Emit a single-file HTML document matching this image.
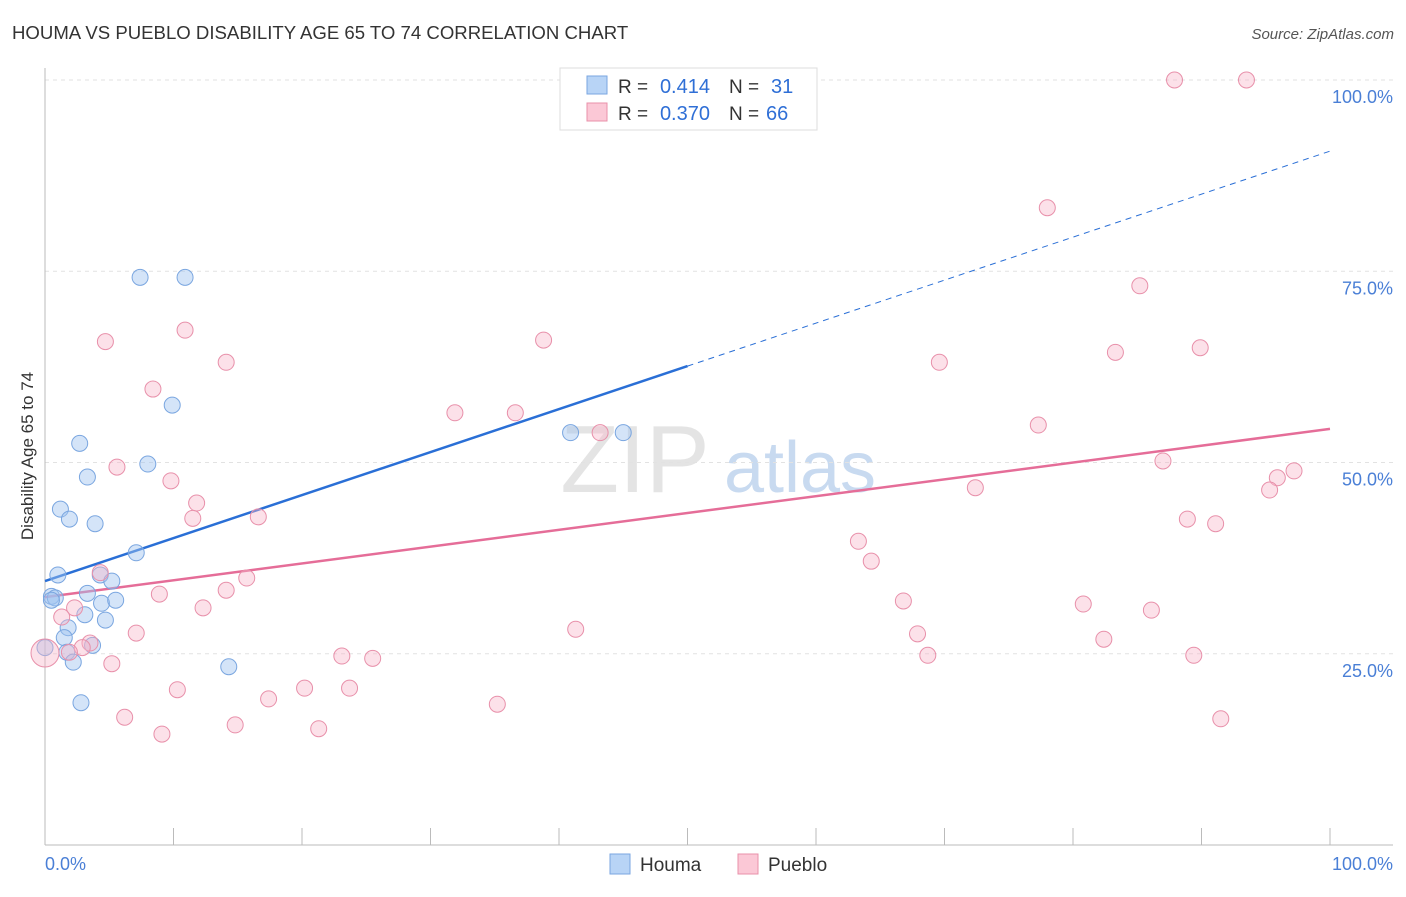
<!DOCTYPE html>
<html><head><meta charset="utf-8">
<style>
body{margin:0;background:#fff;font-family:"Liberation Sans",sans-serif;}
svg text{font-family:"Liberation Sans",sans-serif;}
</style></head>
<body>
<svg id="chart" width="1406" height="892" xmlns="http://www.w3.org/2000/svg">
<text x="12" y="39" font-size="18.6" fill="#333">HOUMA VS PUEBLO DISABILITY AGE 65 TO 74 CORRELATION CHART</text>
<text x="1394" y="39" font-size="15" fill="#555" text-anchor="end" font-style="italic">Source: ZipAtlas.com</text>
<text x="33" y="456" font-size="17" fill="#333" text-anchor="middle" transform="rotate(-90 33 456)">Disability Age 65 to 74</text>
<g><text x="635" y="492" font-size="96" fill="#e4e4e4" text-anchor="middle" font-family="Liberation Serif,serif">ZIP</text><text x="800" y="492" font-size="72" fill="#c8daf0" text-anchor="middle">atlas</text></g>
<g id="grid"></g><g id="axes"></g><g id="lines"></g><g id="pts"></g>
<g>
<rect x="560" y="68" width="257" height="62" fill="#fff" stroke="#ddd"/>
<rect x="587" y="76" width="20" height="18" fill="#b8d4f6" stroke="#7aa6e0"/>
<rect x="587" y="103" width="20" height="18" fill="#fbc8d6" stroke="#e890aa"/>
<text x="618" y="93" font-size="19" fill="#333">R =</text>
<text x="710" y="93" font-size="20" fill="#2f6fd6" text-anchor="end">0.414</text>
<text x="729" y="93" font-size="19" fill="#333">N =</text>
<text x="771" y="93" font-size="20" fill="#2f6fd6">31</text>
<text x="618" y="120" font-size="19" fill="#333">R =</text>
<text x="710" y="120" font-size="20" fill="#2f6fd6" text-anchor="end">0.370</text>
<text x="729" y="120" font-size="19" fill="#333">N =</text>
<text x="766" y="120" font-size="20" fill="#2f6fd6">66</text>
</g>
<g>
<rect x="610" y="854" width="20" height="20" fill="#b8d4f6" stroke="#7aa6e0"/>
<text x="640" y="871" font-size="19" fill="#333">Houma</text>
<rect x="738" y="854" width="20" height="20" fill="#fbc8d6" stroke="#e890aa"/>
<text x="768" y="871" font-size="19" fill="#333">Pueblo</text>
</g>
<text x="45" y="870" font-size="18" fill="#4a7fd6">0.0%</text>
<text x="1393" y="870" font-size="18" fill="#4a7fd6" text-anchor="end">100.0%</text>
</svg>
<script>
const yTicks=[25,50,75,100];
const yTickLabels=["25.0%","50.0%","75.0%","100.0%"];
const xTicks=[0,10,20,30,40,50,60,70,80,90,100];
const houmaX=[7.4,10.9,9.9,2.7,8.0,3.3,1.2,1.9,3.9,7.1,1.0,4.3,5.2,0.5,0.8,3.3,4.4,5.5,3.1,4.7,1.8,1.5,3.7,1.7,2.2,14.3,2.8,40.9,45.0,0,0.5];
const houmaY=[74.2,74.2,57.5,52.5,49.8,48.1,43.9,42.6,42.0,38.2,35.3,35.3,34.5,32.5,32.3,32.9,31.6,32.0,30.1,29.4,28.4,27.1,26.1,25.2,23.9,23.3,18.6,53.9,53.9,25.8,32.0];
const puebloX=[4.7,10.9,14.1,8.4,38.8,31.9,36.6,43.2,5.6,9.8,11.8,11.5,16.6,4.3,15.7,14.1,8.9,2.3,12.3,1.3,7.1,3.5,2.9,1.9,5.2,10.3,6.2,9.1,14.8,17.4,20.2,21.3,23.1,23.7,25.5,35.2,41.3,45.7,78.0,85.2,83.3,89.9,69.6,77.3,87.0,72.4,95.9,97.2,95.3,88.9,91.1,63.3,64.3,66.8,67.9,68.7,80.8,86.1,82.4,89.4,91.5,87.9,93.5];
const puebloY=[65.8,67.3,63.1,59.6,66.0,56.5,56.5,53.9,49.4,47.6,44.7,42.7,42.9,35.6,34.9,33.3,32.8,31.0,31.0,29.8,27.7,26.4,25.8,25.2,23.7,20.3,16.7,14.5,15.7,19.1,20.5,15.2,24.7,20.5,24.4,18.4,28.2,100,83.3,73.1,64.4,65.0,63.1,54.9,50.2,46.7,48.0,48.9,46.4,42.6,42.0,39.7,37.1,31.9,27.6,24.8,31.5,30.7,26.9,24.8,16.5,100,100];
const houmaFit=[34.5,62.6]; // value at x=0 and x=50
const puebloFit=[32.4,54.4]; // value at x=0 and x=100
const NS="http://www.w3.org/2000/svg";
const sx=v=>45+v*12.85, sy=v=>845-v*7.65;
function mk(tag,attrs,parent){const e=document.createElementNS(NS,tag);for(const k in attrs)e.setAttribute(k,attrs[k]);document.getElementById(parent).appendChild(e);return e;}
yTicks.forEach((t,i)=>{
 const l=mk('line',{x1:45,x2:1393,y1:sy(t),y2:sy(t),stroke:'#e2e2e2','stroke-dasharray':'4,4'},'grid');
 
 
 const tx=mk('text',{x:1393,y:sy(t)+23,'font-size':18,fill:'#4a7fd6','text-anchor':'end'},'grid');
 tx.textContent=yTickLabels[i];
 
 
});
let a=mk('line',{x1:45,x2:1393,y1:845,y2:845,stroke:'#bbb'},'axes');


a=mk('line',{x1:45,x2:45,y1:68,y2:845,stroke:'#bbb'},'axes');


xTicks.forEach(t=>{const l=mk('line',{x1:sx(t),x2:sx(t),y1:828,y2:845,stroke:'#bbb'},'axes');
 
 });
houmaX.forEach((x,i)=>{const c=mk('circle',{cx:sx(x),cy:sy(houmaY[i]),r:8,fill:'rgba(160,196,240,0.45)',stroke:'#7aa6e0','stroke-width':1},'pts');
 
 });
puebloX.forEach((x,i)=>{const c=mk('circle',{cx:sx(x),cy:sy(puebloY[i]),r:8,fill:'rgba(248,180,200,0.4)',stroke:'#e890aa','stroke-width':1},'pts');
 
 });
let c=mk('circle',{cx:sx(0),cy:sy(25.1),r:14,fill:'rgba(248,180,200,0.4)',stroke:'#e890aa'},'pts');


const hs=(houmaFit[1]-houmaFit[0])/50;
let l=mk('line',{x1:sx(0),y1:sy(houmaFit[0]),x2:sx(50),y2:sy(houmaFit[1]),stroke:'#2a6fd6','stroke-width':2.5},'lines');


l=mk('line',{x1:sx(50),y1:sy(houmaFit[1]),x2:sx(100),y2:sy(houmaFit[0]+hs*100),stroke:'#2a6fd6','stroke-width':1,'stroke-dasharray':'6,5'},'lines');


l=mk('line',{x1:sx(0),y1:sy(puebloFit[0]),x2:sx(100),y2:sy(puebloFit[1]),stroke:'#e56d98','stroke-width':2.5},'lines');


</script>
</body></html>
